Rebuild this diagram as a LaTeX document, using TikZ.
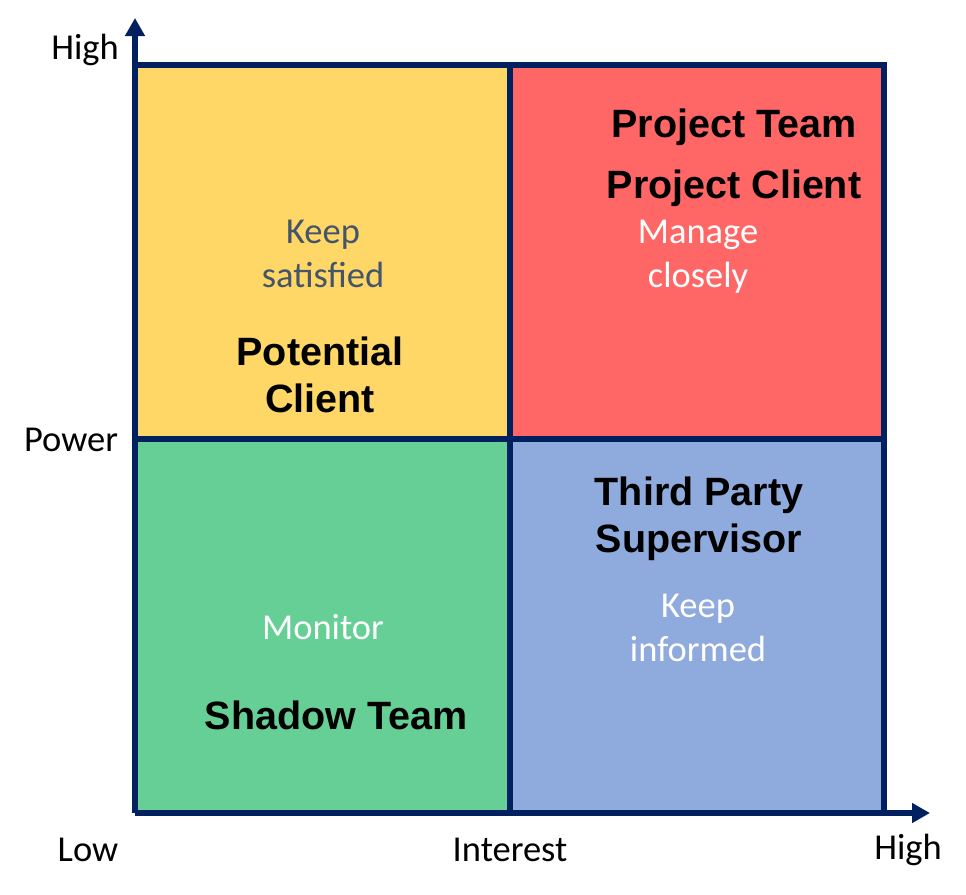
\documentclass[tikz,border=0pt]{standalone}
\usepackage{fontspec}
\setmainfont{Carlito}
\newfontfamily\boldlabel{Liberation Sans}[BoldFont=Liberation Sans Bold]
\usetikzlibrary{arrows.meta}
\definecolor{navy}{HTML}{002060}
\definecolor{quadyellow}{HTML}{FED766}
\definecolor{quadred}{HTML}{FF6666}
\definecolor{quadgreen}{HTML}{66CF96}
\definecolor{quadblue}{HTML}{8FAADC}
\definecolor{slate}{HTML}{44546A}
\begin{document}
\begin{tikzpicture}[x=1pt,y=-1pt,
  axis/.style={draw=navy,line width=6pt,-{Triangle[length=18pt,width=19pt]}},
  gridline/.style={draw=navy,line width=6pt},
  axislabel/.style={font=\fontsize{36.5}{44}\selectfont,text=black,inner sep=0pt},
  advice/.style={font=\fontsize{36.5}{44}\selectfont,align=center,inner sep=0pt},
  party/.style={font=\boldlabel\bfseries\fontsize{39.5}{46.5}\selectfont,align=center,inner sep=0pt,text=black}]
\useasboundingbox (0,0) rectangle (966,894);
% quadrant fills
\fill[quadyellow] (135,65) rectangle (510,439);
\fill[quadred] (510,65) rectangle (884,439);
\fill[quadgreen] (135,439) rectangle (510,813);
\fill[quadblue] (510,439) rectangle (884,813);
% frame and dividers
\coordinate (origin) at (135,813);
\coordinate (ytip) at (135,18);
\coordinate (xtip) at (930,813);
\draw[gridline] (135,65) -- (884,65) -- (884,813);
\draw[gridline] (510,65) -- (510,813);
\draw[gridline] (135,439) -- (884,439);
\draw[axis] (origin) -- (ytip);
\draw[axis] (origin) -- (xtip);
% axis labels
\node[axislabel] (yhigh) at (85,50) {High};
\node[axislabel] (power) at (71,440) {Power};
\node[axislabel] (xlow) at (88,850) {Low};
\node[axislabel] (interest) at (510,850) {Interest};
\node[axislabel] (xhigh) at (908,850) {High};
% quadrant advice
\node[advice,text=slate] (satisfied) at (323,254) {Keep\\satisfied};
\node[advice,text=white] (manage) at (698,257) {Manage\\closely};
\node[advice,text=white] (monitor) at (323,627) {Monitor};
\node[advice,text=white] (informed) at (698,628) {Keep\\informed};
% stakeholders
\node[party] (team) at (734,127) {Project Team};
\node[party] (client) at (734,188) {Project Client};
\node[party] (potential) at (320,375) {Potential\\Client};
\node[party] (supervisor) at (699,519) {Third Party\\Supervisor};
\node[party] (shadow) at (336,715) {Shadow Team};
\end{tikzpicture}
\end{document}
